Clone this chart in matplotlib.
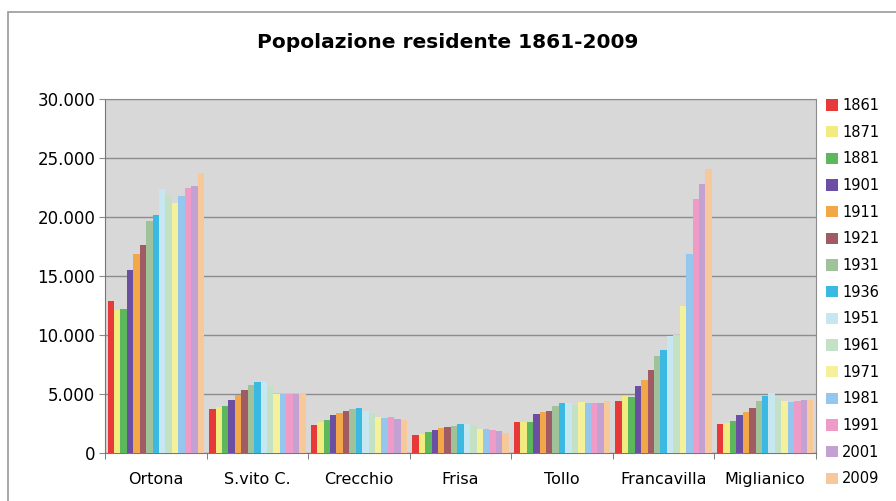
import numpy as np
import matplotlib.pyplot as plt
from matplotlib.patches import Rectangle
from matplotlib.ticker import FuncFormatter, FixedLocator

# Comuni e anni di censimento
comuni = ["Ortona", "S.vito C.", "Crecchio", "Frisa", "Tollo", "Francavilla", "Miglianico"]
anni = ["1861", "1871", "1881", "1901", "1911", "1921", "1931", "1936",
        "1951", "1961", "1971", "1981", "1991", "2001", "2009"]

# popolazione per comune, un elenco per comune, in ordine di anno
ortona = [12900, 12100, 12200, 15500, 16900, 17600, 19700, 20200,
          22400, 21900, 21200, 21800, 22500, 22600, 23700]
svito = [3700, 3900, 4000, 4500, 4900, 5300, 5800, 6000,
         6000, 5700, 5000, 5000, 5000, 5000, 5100]
crecchio = [2400, 2600, 2800, 3250, 3400, 3600, 3700, 3800,
            3600, 3400, 3050, 3000, 3050, 2900, 2800]
frisa = [1500, 1600, 1750, 1950, 2100, 2200, 2300, 2500,
         2500, 2350, 2000, 2000, 1950, 1900, 1700]
tollo = [2600, 2600, 2600, 3300, 3500, 3600, 4000, 4200,
         4200, 4100, 4350, 4200, 4200, 4200, 4400]
francavilla = [4400, 4800, 4750, 5650, 6200, 7000, 8200, 8700,
               9900, 10000, 12500, 16900, 21500, 22800, 24100]
miglianico = [2500, 2550, 2700, 3250, 3500, 3800, 4400, 4800,
              5100, 4650, 4400, 4300, 4400, 4500, 4500]

colori = ["#E8393A", "#F2EC80", "#5DB85C", "#6A4FA3", "#F2A848", "#A05B63",
          "#9FC29A", "#3CB9E3", "#C6E7F0", "#C5E1C5", "#F5F19A", "#95C6EE",
          "#EE9CC7", "#C3A2D3", "#F6C89A"]

dati = np.array([ortona, svito, crecchio, frisa, tollo, francavilla, miglianico])

plt.rcParams['font.family'] = ['DejaVu Sans']

fig = plt.figure(figsize=(8.96, 5.01), dpi=100)
ax = fig.add_axes([105 / 896, 1 - 453 / 501, 711 / 896, 354 / 501])

# cornice esterna del grafico
fig.patches.append(Rectangle((8 / 896, -0.1), 1.0, 1.1 - 12 / 501, transform=fig.transFigure,
                             fill=False, edgecolor="#9a9a9a", linewidth=1.2, zorder=0))

n = len(anni)
x = np.arange(len(comuni))
larghezza = 0.95 / n
for i, anno in enumerate(anni):
    pos = x - 0.475 + larghezza * (i + 0.5)
    ax.bar(pos, dati[:, i], width=larghezza, color=colori[i], label=anno, zorder=3)

ax.set_facecolor("#D8D8D8")
ax.set_xlim(-0.5, len(comuni) - 0.5)
ax.set_ylim(0, 30000)
ax.set_yticks(np.arange(0, 30001, 5000))
ax.yaxis.set_major_formatter(FuncFormatter(lambda v, p: f"{int(v):,}".replace(",", ".")))
ax.grid(axis="y", color="#8c8c8c", linewidth=1.0, zorder=1)

ax.set_xticks(x)
ax.set_xticklabels(comuni)
ax.xaxis.set_minor_locator(FixedLocator(np.arange(-0.5, len(comuni), 1.0)))
ax.tick_params(axis="x", which="major", length=0, pad=14, labelsize=11.5)
ax.tick_params(axis="x", which="minor", length=4, color="#666666")
ax.tick_params(axis="y", length=4, color="#888888", labelsize=12, pad=3)

for lato in ["top", "right"]:
    ax.spines[lato].set_color("#8c8c8c")
ax.spines["left"].set_color("#777777")
ax.spines["bottom"].set_color("#777777")

fig.text(0.5, 1 - 42 / 501, "Popolazione residente 1861-2009", ha="center", va="center",
         fontsize=14.5, fontweight="bold")

ax.legend(loc="upper left", bbox_to_anchor=(826 / 896, 1 - 98 / 501), bbox_transform=fig.transFigure,
          frameon=False, fontsize=10.5, handlelength=0.8, handleheight=0.8, handletextpad=0.3,
          labelspacing=0.8, borderaxespad=0, borderpad=0)

fig.savefig("out.png", dpi=100)
